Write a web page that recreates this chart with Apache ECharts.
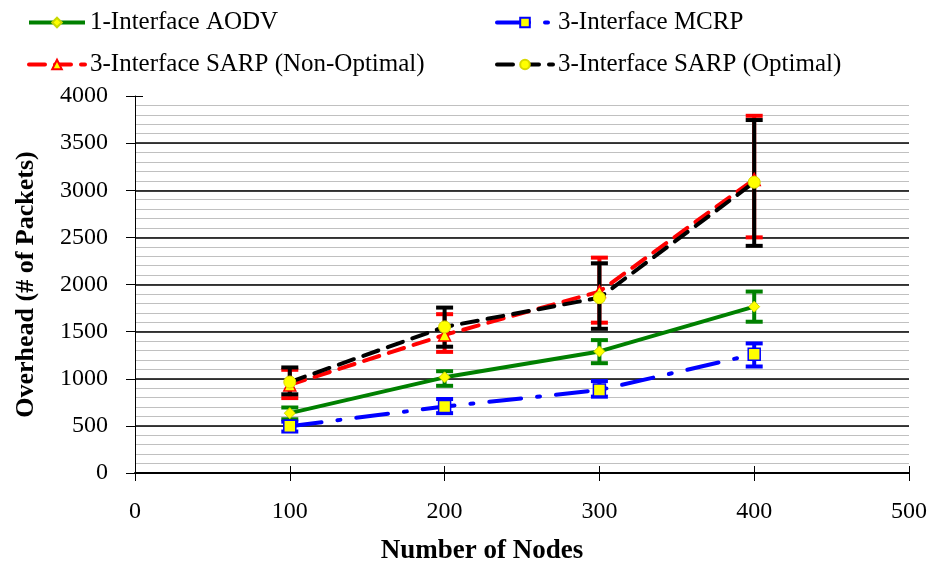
<!DOCTYPE html>
<html>
<head>
<meta charset="utf-8">
<script src="https://cdn.jsdelivr.net/npm/echarts@6/dist/echarts.min.js"></script>
<style>
  html, body { margin: 0; padding: 0; background: #fff; }
  #chart { width: 935px; height: 563px; }
</style>
</head>
<body>
<div id="chart"></div>
<script>
// 节点数
var nodes = [100, 200, 300, 400];

// 1-Interface AODV
var aodv = [635, 1015, 1290, 1765];
var aodvLow = [570, 925, 1165, 1605];
var aodvHigh = [695, 1080, 1410, 1925];

// 3-Interface MCRP
var mcrp = [495, 705, 880, 1260];
var mcrpLow = [440, 635, 810, 1130];
var mcrpHigh = [545, 785, 975, 1375];

// 3-Interface SARP (Non-Optimal)
var sarpNon = [935, 1465, 1925, 3115];
var sarpNonLow = [795, 1285, 1595, 2500];
var sarpNonHigh = [1095, 1685, 2285, 3790];

// 3-Interface SARP (Optimal)
var sarpOpt = [965, 1550, 1860, 3085];
var sarpOptLow = [835, 1340, 1530, 2410];
var sarpOptHigh = [1120, 1755, 2225, 3745];

var names = ["1-Interface AODV", "3-Interface MCRP", "3-Interface SARP (Non-Optimal)", "3-Interface SARP (Optimal)"];

var FONT = "Liberation Serif";

function pairs(xs, ys) {
  return xs.map(function (x, i) { return [x, ys[i]]; });
}
function triples(xs, lo, hi) {
  return xs.map(function (x, i) { return [x, lo[i], hi[i]]; });
}

// 误差棒
function errorBar(color, data) {
  return {
    type: "custom",
    xAxisIndex: 0,
    yAxisIndex: 0,
    data: data,
    renderItem: function (params, api) {
      var x = api.value(0);
      var lo = api.coord([x, api.value(1)]);
      var hi = api.coord([x, api.value(2)]);
      var half = 8.5;
      var style = { stroke: color, lineWidth: 4 };
      return {
        type: "group",
        children: [
          { type: "line", shape: { x1: lo[0], y1: lo[1], x2: hi[0], y2: hi[1] }, style: style },
          { type: "line", shape: { x1: lo[0] - half, y1: lo[1], x2: lo[0] + half, y2: lo[1] }, style: style },
          { type: "line", shape: { x1: hi[0] - half, y1: hi[1], x2: hi[0] + half, y2: hi[1] }, style: style }
        ]
      };
    },
    silent: true,
    z: 3
  };
}

function legendAt(name, left, top) {
  return {
    data: [name],
    left: left,
    top: top,
    itemWidth: 56,
    itemHeight: 12,
    itemGap: 0,
    selectedMode: false,
    lineStyle: { width: 4 },
    textStyle: { fontFamily: FONT, fontSize: 25, color: "#000" }
  };
}

var plainNum = function (v) { return String(v); };

var option = {
  animation: false,
  backgroundColor: "#fff",
  legend: [
    legendAt(names[0], 22, 5),
    legendAt(names[1], 490, 5),
    legendAt(names[2], 22, 47),
    legendAt(names[3], 490, 47)
  ],
  title: {
    text: "Number of Nodes",
    left: 477,
    top: 533,
    textAlign: "center",
    textStyle: { fontFamily: FONT, fontSize: 27, fontWeight: "bold", color: "#000" }
  },
  grid: { left: 135, right: 26, top: 96, bottom: 90 },
  xAxis: [{
    type: "value",
    min: 0,
    max: 500,
    interval: 100,
    axisLine: { lineStyle: { color: "#000", width: 2 } },
    axisTick: { length: 8, lineStyle: { color: "#000", width: 1 } },
    axisLabel: { margin: 27, fontFamily: FONT, fontSize: 24, color: "#000", formatter: plainNum },
    splitLine: { show: false }
  }, {
    type: "value",
    position: "bottom",
    min: 0,
    max: 500,
    interval: 100,
    axisLine: { show: false },
    axisTick: { inside: true, length: 7, lineStyle: { color: "#000", width: 1 } },
    axisLabel: { show: false },
    splitLine: { show: false }
  }],
  yAxis: [{
    type: "value",
    min: 0,
    max: 4000,
    interval: 500,
    name: "Overhead (# of Packets)",
    nameLocation: "middle",
    nameGap: 96,
    nameTextStyle: { fontFamily: FONT, fontSize: 26, fontWeight: "bold", color: "#000" },
    axisLine: { show: true, lineStyle: { color: "#000", width: 1 } },
    axisTick: { show: true, length: 9, lineStyle: { color: "#000" } },
    axisLabel: { margin: 27, fontFamily: FONT, fontSize: 24, color: "#000", formatter: plainNum },
    splitLine: { show: true, showMinLine: false, showMaxLine: false, lineStyle: { color: "#000", width: 1.5 } },
    z: 2
  }, {
    // 次网格线（每 100）
    type: "value",
    position: "left",
    min: 0,
    max: 4000,
    interval: 100,
    axisLine: { show: false },
    axisTick: { show: false },
    axisLabel: { show: false },
    splitLine: { show: true, showMinLine: false, showMaxLine: false, lineStyle: { color: "#c0c0c0", width: 1 } },
    z: 1
  }, {
    type: "value",
    position: "left",
    min: 0,
    max: 4000,
    interval: 500,
    axisLine: { show: false },
    axisTick: { show: true, inside: true, length: 8, lineStyle: { color: "#000" } },
    axisLabel: { show: false },
    splitLine: { show: false }
  }],
  series: [
    {
      name: names[0],
      type: "line",
      data: pairs(nodes, aodv),
      symbol: "diamond",
      symbolSize: 11,
      itemStyle: { color: "#ffff00", borderColor: "#c8d800", borderWidth: 1 },
      lineStyle: { color: "#008000", width: 4 },
      z: 4
    },
    errorBar("#008000", triples(nodes, aodvLow, aodvHigh)),
    {
      name: names[1],
      type: "line",
      data: pairs(nodes, mcrp),
      symbol: "rect",
      symbolSize: 12,
      itemStyle: { color: "#ffff00", borderColor: "#0000ff", borderWidth: 1.5 },
      lineStyle: { color: "#0000ff", width: 4, type: [32, 16, 3, 16], cap: "round" },
      z: 4
    },
    errorBar("#0000ff", triples(nodes, mcrpLow, mcrpHigh)),
    {
      name: names[2],
      type: "line",
      data: pairs(nodes, sarpNon),
      symbol: "triangle",
      symbolSize: 12,
      itemStyle: { color: "#ffff00", borderColor: "#ff0000", borderWidth: 1.5 },
      lineStyle: { color: "#ff0000", width: 4, type: [16, 10], cap: "round" },
      z: 4
    },
    errorBar("#ff0000", triples(nodes, sarpNonLow, sarpNonHigh)),
    {
      name: names[3],
      type: "line",
      data: pairs(nodes, sarpOpt),
      symbol: "circle",
      symbolSize: 12,
      itemStyle: { color: "#ffff00", borderColor: "#d8d800", borderWidth: 1 },
      lineStyle: { color: "#000", width: 4, type: [16, 10], cap: "round" },
      z: 5
    },
    errorBar("#000", triples(nodes, sarpOptLow, sarpOptHigh))
  ]
};

var chartObj = echarts.init(document.getElementById("chart"));
chartObj.setOption(option);
</script>
</body>
</html>
